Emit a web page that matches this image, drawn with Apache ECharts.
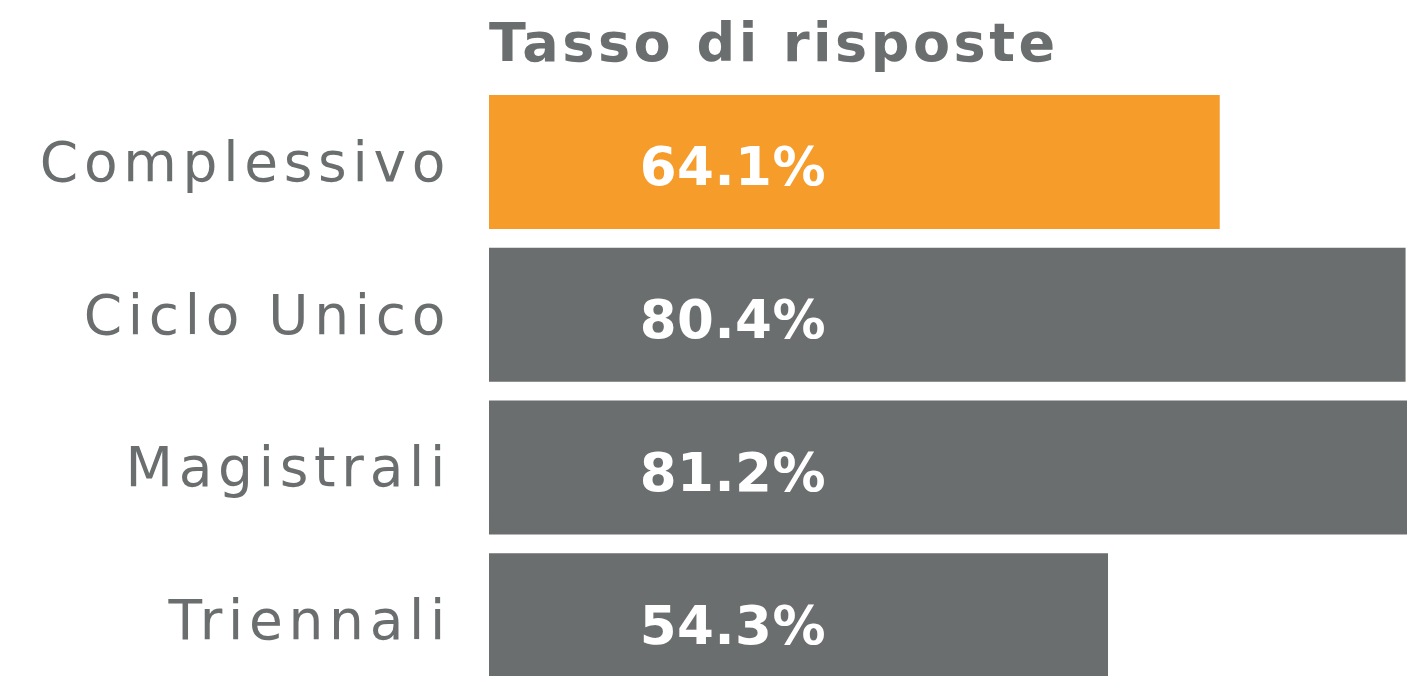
<!DOCTYPE html>
<html>
<head>
<meta charset="utf-8">
<script src="https://cdn.jsdelivr.net/npm/echarts@6/dist/echarts.min.js"></script>
<style>
  html, body { margin: 0; padding: 0; background: #ffffff; }
  #chart { width: 1407px; height: 676px; }
  /* letter spacing of the original typography */
  #chart text[style*="55px"] { letter-spacing: 5.7px; }
  #chart text[style*="54px"] { letter-spacing: 3.5px; }
  #chart text[style*="53px"] { letter-spacing: 0.5px; }
</style>
</head>
<body>
<div id="chart"></div>
<script>
const titleText = 'Tasso di risposte';
const categories = ['Complessivo', 'Ciclo Unico', 'Magistrali', 'Triennali'];
const responseRates = [64.1, 80.4, 81.2, 54.3];
const highlightCategory = 'Complessivo';

const ORANGE = '#f69c2a';
const GREY = '#6b6e6e';

const chart = echarts.init(document.getElementById('chart'), null, { renderer: 'svg' });

chart.setOption({
  animation: false,
  backgroundColor: '#ffffff',
  title: {
    text: titleText,
    left: 489,
    top: 15,
    padding: 0,
    textStyle: {
      fontFamily: 'DejaVu Sans',
      fontWeight: 'bold',
      fontSize: 54,
      color: GREY
    }
  },
  grid: {
    left: 489,
    width: 1140,
    top: 85.6,
    height: 611,
    containLabel: false,
    outerBoundsMode: 'none'
  },
  xAxis: {
    type: 'value',
    min: 0,
    max: 100,
    show: false
  },
  yAxis: {
    type: 'category',
    inverse: true,
    data: categories,
    axisLine: { show: false },
    axisTick: { show: false },
    splitLine: { show: false },
    axisLabel: {
      margin: 38,
      padding: [8, 0, 0, 0],
      fontFamily: 'DejaVu Sans',
      fontSize: 55,
      color: GREY
    }
  },
  series: [{
    type: 'bar',
    data: responseRates,
    barWidth: 134,
    itemStyle: {
      color: (p) => categories[p.dataIndex] === highlightCategory ? ORANGE : GREY
    },
    label: {
      show: true,
      position: [337, '50%'],
      align: 'right',
      verticalAlign: 'middle',
      offset: [0, 5],
      formatter: (p) => p.value.toFixed(1) + '%',
      fontFamily: 'DejaVu Sans',
      fontWeight: 'bold',
      fontSize: 53,
      color: '#ffffff'
    }
  }]
});
</script>
</body>
</html>
